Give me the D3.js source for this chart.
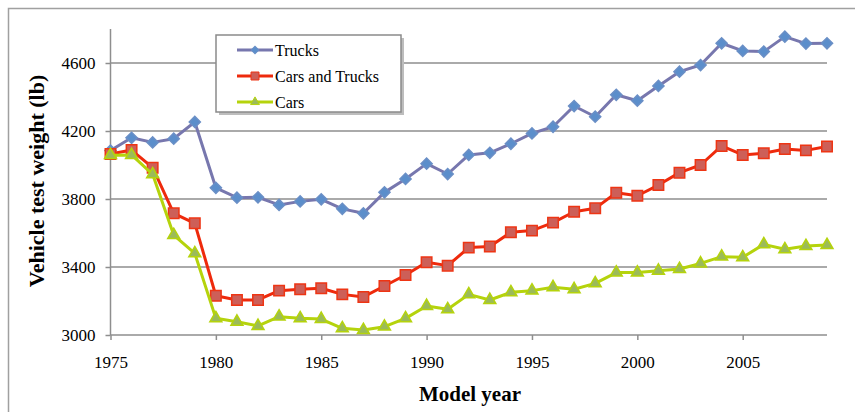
<!DOCTYPE html>
<html>
<head>
<meta charset="utf-8">
<script src="https://cdn.jsdelivr.net/npm/d3@7"></script>
<style>
  body { margin: 0; background: #fff; }
  text { font-family: "Liberation Serif", "Times New Roman", serif; fill: #000; }
</style>
</head>
<body>
<div id="chart-container"></div>
<script>
const years = d3.range(1975, 2010);

const trucks = [4085, 4160, 4133, 4155, 4253, 3866, 3808, 3810, 3765, 3786,
  3798, 3742, 3716, 3839, 3918, 4008, 3947, 4059, 4072, 4125,
  4186, 4225, 4347, 4284, 4413, 4378, 4465, 4549, 4588, 4716,
  4671, 4667, 4755, 4714, 4716];

const carsAndTrucks = [4065, 4088, 3984, 3716, 3657, 3231, 3206, 3206, 3261, 3269,
  3275, 3239, 3224, 3288, 3353, 3428, 3408, 3514, 3520, 3604,
  3614, 3661, 3725, 3745, 3837, 3819, 3882, 3955, 4000, 4112,
  4059, 4069, 4094, 4086, 4109];

const cars = [4058, 4059, 3945, 3588, 3480, 3098, 3078, 3053, 3108, 3098,
  3094, 3039, 3029, 3049, 3098, 3171, 3151, 3239, 3206, 3251,
  3261, 3281, 3269, 3304, 3367, 3367, 3378, 3388, 3421, 3461,
  3457, 3533, 3504, 3523, 3529];

const xTicks = [1975, 1980, 1985, 1990, 1995, 2000, 2005];
const yTicks = [3000, 3400, 3800, 4200, 4600];

const seriesNames = ["Trucks", "Cars and Trucks", "Cars"];

const W = 855, H = 412;
const plot = { left: 110.5, right: 827, top: 29, bottom: 335 };
const gridColor = "#8e8e8e";

const svg = d3.select("#chart-container")
  .append("svg")
  .attr("width", W)
  .attr("height", H);

svg.append("rect").attr("width", W).attr("height", H).attr("fill", "#fff");

// outer chart frame (only top and left visible in the crop)
svg.append("path")
  .attr("d", `M8.5,${H} V8.5 H${W}`)
  .attr("fill", "none")
  .attr("stroke", "#a0a0a0")
  .attr("stroke-width", 1.5);

const x = d3.scaleLinear().domain([1975, 2009]).range([plot.left, plot.right]);
const y = d3.scaleLinear().domain([3000, 4800]).range([plot.bottom, plot.top]);

// gridlines
svg.append("g")
  .selectAll("line")
  .data(yTicks.filter(d => d > 3000))
  .enter().append("line")
  .attr("x1", plot.left)
  .attr("x2", plot.right)
  .attr("y1", d => y(d))
  .attr("y2", d => y(d))
  .attr("stroke", gridColor)
  .attr("stroke-width", 1.5);

// y axis
const yAxis = svg.append("g")
  .attr("transform", `translate(${plot.left},0)`)
  .call(d3.axisLeft(y).tickValues(yTicks).tickSize(5).tickPadding(10).tickFormat(d3.format("d")));
yAxis.select(".domain").remove();
yAxis.append("line")
  .attr("y1", plot.top).attr("y2", plot.bottom)
  .attr("stroke", gridColor).attr("stroke-width", 1.5);
yAxis.selectAll(".tick line").attr("stroke", gridColor).attr("stroke-width", 1.5);
yAxis.selectAll(".tick text")
  .style("font-family", '"Liberation Serif", "Times New Roman", serif')
  .style("font-size", "17px")
  .attr("fill", "#000");

// x axis
const xAxis = svg.append("g")
  .attr("transform", `translate(0,${plot.bottom})`)
  .call(d3.axisBottom(x).tickValues(xTicks).tickSize(5).tickPadding(16).tickFormat(d3.format("d")));
xAxis.select(".domain").remove();
xAxis.append("line")
  .attr("x1", plot.left).attr("x2", plot.right)
  .attr("stroke", gridColor).attr("stroke-width", 1.5);
xAxis.selectAll(".tick line").attr("stroke", gridColor).attr("stroke-width", 1.5);
xAxis.selectAll(".tick text")
  .style("font-family", '"Liberation Serif", "Times New Roman", serif')
  .style("font-size", "17px")
  .attr("fill", "#000");

// axis titles
svg.append("text")
  .attr("transform", `translate(36,181) rotate(-90)`)
  .attr("text-anchor", "middle")
  .attr("dy", "0.35em")
  .style("font-size", "22px")
  .style("font-weight", "bold")
  .text("Vehicle test weight (lb)");

svg.append("text")
  .attr("x", 470)
  .attr("y", 401)
  .attr("text-anchor", "middle")
  .style("font-size", "21px")
  .style("font-weight", "bold")
  .text("Model year");

// series styles
const styles = [
  { values: trucks, line: "#7777ae", fill: "#5b8ecb", stroke: "#6a8fc6",
    symbol: d3.symbolSquare, size: 62, rotate: 45, legendSize: 30 },
  { values: carsAndTrucks, line: "#ee2a0c", fill: "#cd5f58", stroke: "#ee3514",
    symbol: d3.symbolSquare, size: 110, rotate: 0, legendSize: 64 },
  { values: cars, line: "#b5d30c", fill: "#9bbb59", stroke: "#b5d30c",
    symbol: d3.symbolTriangle, size: 62, rotate: 0, legendSize: 34 }
];

const line = d3.line()
  .x((d, i) => x(years[i]))
  .y(d => y(d));

styles.forEach(s => {
  const g = svg.append("g");

  g.append("path")
    .datum(s.values)
    .attr("d", line)
    .attr("fill", "none")
    .attr("stroke", s.line)
    .attr("stroke-width", 3)
    .attr("stroke-linejoin", "round");

  g.selectAll("path.marker")
    .data(s.values)
    .enter().append("path")
    .attr("class", "marker")
    .attr("d", d3.symbol().type(s.symbol).size(s.size))
    .attr("transform", (d, i) => `translate(${x(years[i])},${y(d)}) rotate(${s.rotate})`)
    .attr("fill", s.fill)
    .attr("stroke", s.stroke)
    .attr("stroke-width", 1.5);
});

// legend
const legend = svg.append("g").attr("transform", "translate(216,35)");

legend.append("rect")
  .attr("x", 3).attr("y", 3)
  .attr("width", 185).attr("height", 77)
  .attr("fill", "#bdbdbd");
legend.append("rect")
  .attr("width", 185).attr("height", 77)
  .attr("fill", "#fff")
  .attr("stroke", "#8a8a8a")
  .attr("stroke-width", 1.5);

legend.selectAll(".legend-item")
  .data(styles)
  .enter().append("g")
  .attr("class", "legend-item")
  .attr("transform", (d, i) => `translate(0, ${15 + i * 26})`)
  .each(function(d, i) {
    const item = d3.select(this);
    item.append("line")
      .attr("x1", 21).attr("x2", 57)
      .attr("stroke", d.line)
      .attr("stroke-width", 3);
    item.append("path")
      .attr("d", d3.symbol().type(d.symbol).size(d.legendSize))
      .attr("transform", `translate(39,0) rotate(${d.rotate})`)
      .attr("fill", d.fill)
      .attr("stroke", d.stroke)
      .attr("stroke-width", 1);
    item.append("text")
      .attr("x", 59)
      .attr("dy", "0.35em")
      .style("font-size", "16px")
      .text(seriesNames[i]);
  });
</script>
</body>
</html>
